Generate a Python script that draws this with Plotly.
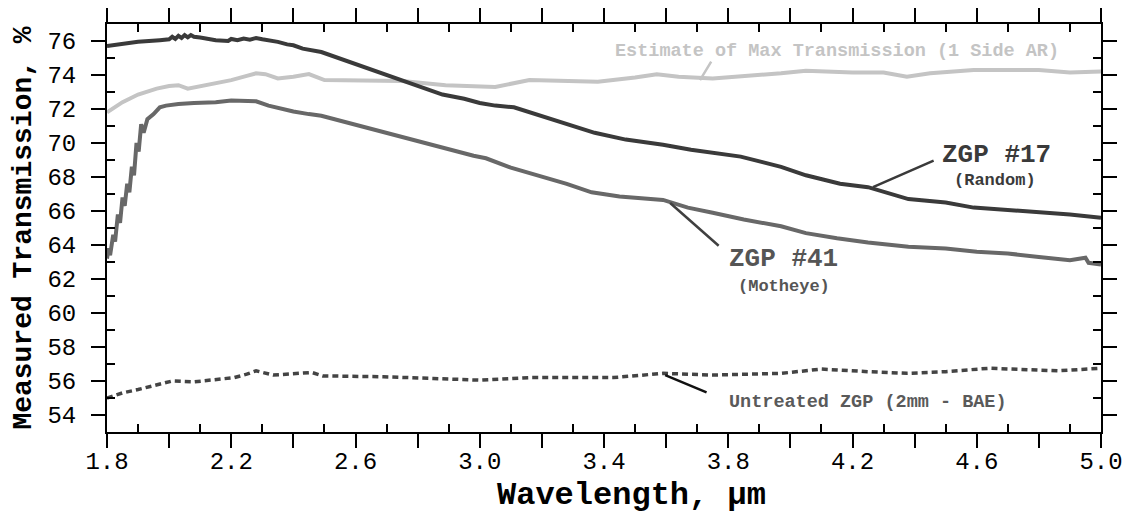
import plotly.graph_objects as go

# ---------------- data ----------------
zgp17_x = [1.80, 1.85, 1.90, 1.97, 2.00, 2.01, 2.02, 2.03, 2.04, 2.05, 2.06, 2.07, 2.08, 2.10,
           2.15, 2.19, 2.20, 2.22, 2.24, 2.26, 2.28, 2.30, 2.32, 2.35, 2.38, 2.40, 2.43, 2.46,
           2.49, 2.88, 2.95, 3.00, 3.05, 3.11, 3.20, 3.28, 3.37, 3.47, 3.59, 3.68, 3.75, 3.84,
           3.97, 4.05, 4.16, 4.25, 4.38, 4.50, 4.59, 4.70, 4.80, 4.90, 5.00]
zgp17_y = [75.70, 75.85, 75.95, 76.05, 76.10, 76.25, 76.12, 76.30, 76.18, 76.35, 76.22, 76.35,
           76.25, 76.20, 76.05, 76.00, 76.12, 76.05, 76.15, 76.08, 76.18, 76.10, 76.05, 75.95,
           75.80, 75.75, 75.55, 75.45, 75.35, 72.85, 72.60, 72.35, 72.20, 72.10, 71.60, 71.10,
           70.60, 70.20, 69.90, 69.60, 69.40, 69.20, 68.60, 68.10, 67.60, 67.40, 66.70, 66.50,
           66.20, 66.05, 65.90, 65.80, 65.60]

zgp41_x = [1.800, 1.805, 1.810, 1.820, 1.826, 1.835, 1.842, 1.850, 1.857, 1.865, 1.872, 1.880,
           1.887, 1.895, 1.902, 1.910, 1.918, 1.930, 1.950, 1.970, 1.990, 2.03, 2.08, 2.15,
           2.20, 2.25, 2.28, 2.32, 2.35, 2.40, 2.45, 2.49, 2.98, 3.02, 3.10, 3.19, 3.28, 3.36,
           3.45, 3.59, 3.67, 3.75, 3.85, 3.97, 4.05, 4.15, 4.25, 4.38, 4.50, 4.60, 4.70, 4.80,
           4.90, 4.95, 4.96, 5.00]
zgp41_y = [63.2, 63.8, 63.4, 64.6, 64.2, 65.8, 65.3, 66.8, 66.3, 67.6, 67.1, 68.6,
           68.1, 70.0, 69.5, 71.1, 70.6, 71.4, 71.7, 72.1, 72.2, 72.3, 72.35, 72.4,
           72.5, 72.5, 72.45, 72.2, 72.05, 71.85, 71.7, 71.6, 69.25, 69.1, 68.55, 68.1, 67.6, 67.1,
           66.85, 66.65, 66.2, 65.9, 65.5, 65.1, 64.7, 64.4, 64.15, 63.9, 63.8, 63.6, 63.5, 63.3,
           63.1, 63.25, 62.95, 62.85]

est_x = [1.80, 1.85, 1.90, 1.96, 2.00, 2.03, 2.06, 2.10, 2.15, 2.20, 2.25, 2.28, 2.31, 2.35,
         2.40, 2.45, 2.50, 2.75, 2.89, 3.05, 3.16, 3.38, 3.50, 3.57, 3.64, 3.75, 3.97, 4.05,
         4.20, 4.30, 4.375, 4.45, 4.59, 4.80, 4.90, 5.00]
est_y = [71.8, 72.4, 72.85, 73.2, 73.35, 73.4, 73.2, 73.35, 73.55, 73.7, 73.95, 74.1, 74.05, 73.8,
         73.9, 74.05, 73.7, 73.65, 73.4, 73.3, 73.7, 73.6, 73.85, 74.05, 73.9, 73.8, 74.1, 74.25,
         74.15, 74.15, 73.9, 74.1, 74.3, 74.3, 74.15, 74.2]

unt_x = [1.80, 1.85, 1.90, 1.97, 2.01, 2.08, 2.15, 2.21, 2.25, 2.28, 2.335, 2.42, 2.46, 2.495,
         2.69, 2.85, 3.00, 3.16, 3.43, 3.59, 3.75, 3.97, 4.10, 4.25, 4.375, 4.50, 4.64, 4.86, 5.00]
unt_y = [55.0, 55.3, 55.5, 55.8, 56.0, 55.95, 56.1, 56.2, 56.4, 56.6, 56.35, 56.45, 56.5, 56.3,
         56.25, 56.15, 56.05, 56.2, 56.2, 56.45, 56.35, 56.45, 56.7, 56.55, 56.45, 56.55, 56.75,
         56.6, 56.75]

x_major = [1.8, 2.0, 2.2, 2.4, 2.6, 2.8, 3.0, 3.2, 3.4, 3.6, 3.8, 4.0, 4.2, 4.4, 4.6, 4.8, 5.0]
x_labels = ["1.8", "", "2.2", "", "2.6", "", "3.0", "", "3.4", "", "3.8", "", "4.2", "", "4.6", "", "5.0"]
x_minor = [1.9, 2.1, 2.3, 2.5, 2.7, 2.9, 3.1, 3.3, 3.5, 3.7, 3.9, 4.1, 4.3, 4.5, 4.7, 4.9]
y_major = [54, 56, 58, 60, 62, 64, 66, 68, 70, 72, 74, 76]
y_minor = [55, 57, 59, 61, 63, 65, 67, 69, 71, 73, 75]

FONT = "Courier New, Liberation Mono, monospace"
C17, C41, CEST, CUNT = "#3a3a3a", "#686868", "#c4c4c4", "#444444"

fig = go.Figure()
fig.add_trace(go.Scatter(x=est_x, y=est_y, mode="lines", line=dict(color=CEST, width=4),
                         name="Estimate of Max Transmission (1 Side AR)"))
fig.add_trace(go.Scatter(x=unt_x, y=unt_y, mode="lines", line=dict(color=CUNT, width=3.5, dash="6px,4px"),
                         name="Untreated ZGP (2mm - BAE)"))
fig.add_trace(go.Scatter(x=zgp41_x, y=zgp41_y, mode="lines", line=dict(color=C41, width=4),
                         name="ZGP #41 (Motheye)"))
fig.add_trace(go.Scatter(x=zgp17_x, y=zgp17_y, mode="lines", line=dict(color=C17, width=4),
                         name="ZGP #17 (Random)"))

# leader lines (tail -> head)
leaders = [
    (3.748, 74.88, 3.709, 73.70, CEST),
    (4.466, 69.00, 4.266, 67.41, C17),
    (3.774, 63.88, 3.613, 66.47, "#404040"),
    (3.735, 55.29, 3.597, 56.35, "#111111"),
]
for tx, ty, hx, hy, c in leaders:
    fig.add_annotation(x=hx, y=hy, ax=tx, ay=ty, xref="x", yref="y", axref="x", ayref="y",
                       text="", showarrow=True, arrowhead=0, arrowwidth=2.5, arrowcolor=c)

labels = [
    (4.150, 75.40, "<b>Estimate of Max Transmission (1 Side AR)</b>", 18.5, CEST),
    (4.662, 69.29, "<b>ZGP #17</b>", 26, C17),
    (4.659, 67.82, "<b>(Random)</b>", 17, C17),
    (3.978, 63.18, "<b>ZGP #41</b>", 26, "#555555"),
    (3.978, 61.53, "<b>(Motheye)</b>", 17, "#555555"),
    (4.250, 54.76, "<b>Untreated ZGP (2mm - BAE)</b>", 18.5, "#5a5a5a"),
]
for x, y, t, s, c in labels:
    fig.add_annotation(x=x, y=y, xref="x", yref="y", text=t, showarrow=False,
                       font=dict(family=FONT, size=s, color=c))

# x-axis title (placed slightly right of centre as in the original)
fig.add_annotation(x=0.528, y=-0.155, xref="paper", yref="paper", yanchor="middle",
                   text="<b>Wavelength, µm</b>", showarrow=False,
                   font=dict(family=FONT, size=32, color="black"))

fig.update_layout(
    width=1128, height=513,
    margin=dict(l=107, r=27, t=24, b=81),
    paper_bgcolor="white", plot_bgcolor="white",
    showlegend=False,
    font=dict(family=FONT, color="black"),
)
fig.update_xaxes(
    range=[1.8, 5.0], showgrid=False, zeroline=False, automargin=False,
    showline=True, linecolor="black", linewidth=2, mirror="ticks",
    tickmode="array", tickvals=x_major, ticktext=x_labels, ticklabelstandoff=-8,
    ticks="outside", ticklen=14, tickwidth=2, tickcolor="black",
    tickfont=dict(family=FONT, size=24, color="black"),
    minor=dict(tickmode="array", tickvals=x_minor, ticks="inside", ticklen=8,
               tickwidth=2, tickcolor="black", showgrid=False),
)
fig.update_yaxes(
    range=[53, 77], showgrid=False, zeroline=False, automargin=False,
    showline=True, linecolor="black", linewidth=2, mirror="ticks",
    tickmode="array", tickvals=y_major, ticklabelstandoff=10,
    ticks="outside", ticklen=14, tickwidth=2, tickcolor="black",
    tickfont=dict(family=FONT, size=24, color="black"),
    minor=dict(tickmode="array", tickvals=y_minor, ticks="inside", ticklen=8,
               tickwidth=2, tickcolor="black", showgrid=False),
    title=dict(text="<b>Measured Transmission, %</b>", font=dict(family=FONT, size=28, color="black"), standoff=8),
)

fig.write_html("out.html", config={"displayModeBar": False},
               post_script="document.body.style.margin='0';")
